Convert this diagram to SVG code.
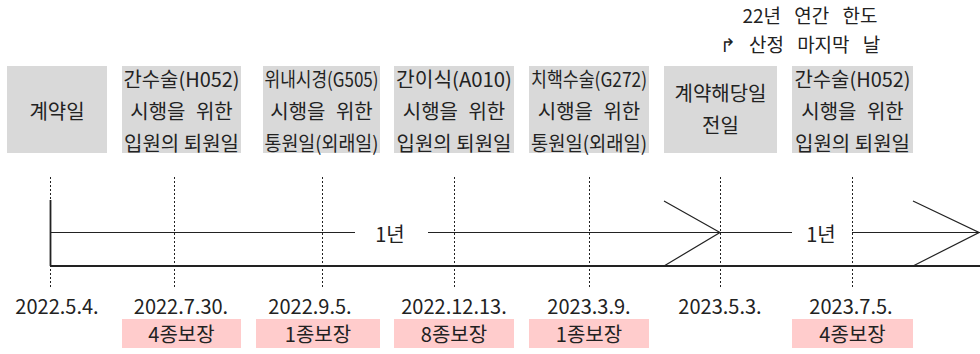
<svg xmlns="http://www.w3.org/2000/svg" width="980" height="354" viewBox="0 0 980 354">
<style>
text{font-family:"Noto Sans CJK KR","Noto Sans",sans-serif;font-size:20px;fill:#222;text-anchor:middle;dominant-baseline:central}
.ws{word-spacing:6px}
.top{font-size:19px;word-spacing:9px}
.gray{fill:#d9d9d9}
.pink{fill:#ffcccc}
.dot{stroke:#222;stroke-width:1;stroke-dasharray:2 2;fill:none}
.ln{stroke:#222;stroke-width:1.2;fill:none}
.bold{stroke:#222;stroke-width:1.8;fill:none}
</style>
<rect width="980" height="354" fill="#fff"/>
<g id="note">
<text class="top" x="810" y="14">22년 연간 한도</text>
<text class="top" x="800" y="43">↱ 산정 마지막 날</text>
</g>
<g id="n1"><rect class="gray" x="7" y="66" width="100" height="87"/><text x="57" y="110">계약일</text></g>
<g id="n2"><rect class="gray" x="122" y="66" width="119" height="87"/>
<text x="181.5" y="78" textLength="116" lengthAdjust="spacingAndGlyphs">간수술(H052)</text>
<text class="ws" x="181.5" y="110">시행을 위한</text>
<text x="181.5" y="142">입원의 퇴원일</text></g>
<g id="n3"><rect class="gray" x="263" y="66" width="117" height="87"/>
<text x="321.5" y="78" textLength="114" lengthAdjust="spacingAndGlyphs">위내시경(G505)</text>
<text class="ws" x="321.5" y="110">시행을 위한</text>
<text x="321.5" y="142" textLength="114" lengthAdjust="spacingAndGlyphs">통원일(외래일)</text></g>
<g id="n4"><rect class="gray" x="394" y="66" width="120" height="87"/>
<text x="454" y="78" textLength="116" lengthAdjust="spacingAndGlyphs">간이식(A010)</text>
<text class="ws" x="454" y="110">시행을 위한</text>
<text x="454" y="142">입원의 퇴원일</text></g>
<g id="n5"><rect class="gray" x="529" y="66" width="120" height="87"/>
<text x="589" y="78" textLength="116" lengthAdjust="spacingAndGlyphs">치핵수술(G272)</text>
<text class="ws" x="589" y="110">시행을 위한</text>
<text x="589" y="142" textLength="116" lengthAdjust="spacingAndGlyphs">통원일(외래일)</text></g>
<g id="n6"><rect class="gray" x="664" y="66" width="113" height="87"/>
<text x="720.5" y="92">계약해당일</text>
<text x="720.5" y="124">전일</text></g>
<g id="n7"><rect class="gray" x="792" y="66" width="121" height="87"/>
<text x="852.5" y="78" textLength="116" lengthAdjust="spacingAndGlyphs">간수술(H052)</text>
<text class="ws" x="852.5" y="110">시행을 위한</text>
<text x="852.5" y="142">입원의 퇴원일</text></g>
<g id="connectors">
<line class="dot" x1="50.5" y1="177" x2="50.5" y2="288"/>
<line class="dot" x1="174.5" y1="177" x2="174.5" y2="288"/>
<line class="dot" x1="322.5" y1="177" x2="322.5" y2="288"/>
<line class="dot" x1="454.5" y1="177" x2="454.5" y2="288"/>
<line class="dot" x1="589.5" y1="177" x2="589.5" y2="288"/>
<line class="dot" x1="720.5" y1="177" x2="720.5" y2="288"/>
<line class="dot" x1="852.5" y1="177" x2="852.5" y2="288"/>
<line class="bold" x1="50.5" y1="200" x2="50.5" y2="266"/>
<line class="ln" x1="50" y1="232.5" x2="355" y2="232.5"/>
<line class="ln" x1="428" y1="232.5" x2="720" y2="232.5"/>
<line class="ln" x1="720" y1="232.5" x2="792" y2="232.5"/>
<line class="ln" x1="852" y1="232.5" x2="980" y2="232.5"/>
<line class="bold" x1="50" y1="266" x2="980" y2="266"/>
<polyline class="ln" points="664,201 720,232.5 664,266"/>
<polyline class="ln" points="913,201 979,232.5 913,266"/>
</g>
<g id="labels">
<text x="390" y="233">1년</text>
<text x="821" y="233">1년</text>
<text x="57" y="305">2022.5.4.</text>
<text x="181" y="305">2022.7.30.</text>
<text x="310" y="305">2022.9.5.</text>
<text x="454" y="305">2022.12.13.</text>
<text x="589" y="305">2023.3.9.</text>
<text x="720" y="305">2023.5.3.</text>
<text x="851" y="305">2023.7.5.</text>
</g>
<g id="p1"><rect class="pink" x="122" y="319" width="119" height="29"/><text x="181.5" y="333">4종보장</text></g>
<g id="p2"><rect class="pink" x="256" y="319" width="124" height="29"/><text x="318" y="333">1종보장</text></g>
<g id="p3"><rect class="pink" x="394" y="319" width="120" height="29"/><text x="454" y="333">8종보장</text></g>
<g id="p4"><rect class="pink" x="529" y="319" width="120" height="29"/><text x="589" y="333">1종보장</text></g>
<g id="p5"><rect class="pink" x="792" y="319" width="121" height="29"/><text x="852.5" y="333">4종보장</text></g>
</svg>
